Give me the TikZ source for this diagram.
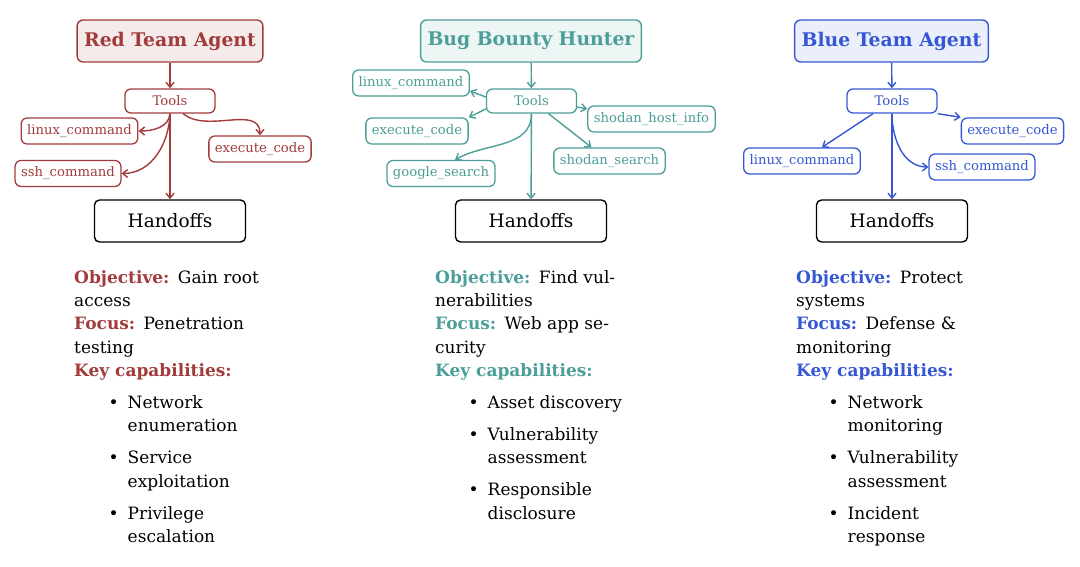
\documentclass[tikz,border=0pt]{standalone}
\usepackage{fontspec}
\setmainfont{DejaVu Serif}
\usetikzlibrary{arrows.meta}

\definecolor{redc}{HTML}{A23B3B}
\definecolor{tealc}{HTML}{4C9E98}
\definecolor{bluec}{HTML}{3557D3}

\begin{document}
\begin{tikzpicture}[
  x=1pt, y=1pt,
  agent/.style={
    draw=#1, fill=#1!10, text=#1, rectangle, rounded corners=6pt,
    line width=1.4pt, minimum height=42pt, inner xsep=7pt,
    font=\fontsize{18.8}{21}\selectfont\bfseries
  },
  tools/.style={
    draw=#1, fill=white, text=#1, rectangle, rounded corners=6pt,
    line width=1.3pt, minimum width=90pt, minimum height=24pt,
    font=\fontsize{13.2}{15}\selectfont
  },
  tool/.style={
    draw=#1, fill=white, text=#1, rectangle, rounded corners=6pt,
    line width=1.3pt, minimum height=26pt, inner xsep=6pt,
    font=\fontsize{13.2}{15}\selectfont
  },
  hand/.style={
    draw=black, fill=white, rectangle, rounded corners=5pt,
    line width=1.4pt, minimum width=151pt, minimum height=42pt,
    font=\fontsize{18.5}{21}\selectfont
  },
  info/.style={
    anchor=north west, align=left, inner sep=0pt,
    font=\fontsize{17}{23.3}\selectfont
  },
  arr/.style={-{Straight Barb[length=5pt,width=8pt]}, line width=1.4pt, draw=#1}
]
\useasboundingbox (0,0) rectangle (1080,-567);

%% ── Red Team Agent ───────────────────────────────────────────
\node[agent=redc] (rtitle) at (170, -41) {Red Team Agent};
\node[tools=redc] (rtools) at (170,-101) {Tools};
\node[tool=redc]  (rlinux) at ( 79.5,-131) {linux\_command};
\node[tool=redc]  (rssh)   at ( 68,-173.5) {ssh\_command};
\node[tool=redc]  (rexec)  at (260,-149) {execute\_code};
\node[hand]       (rhand)  at (170,-221) {Handoffs};

\draw[arr=redc] (rtitle) -- (rtools);
\draw[arr=redc] (rtools) -- (rhand);
\draw[arr=redc] (rtools.south) to[out=-95, in=0] (rlinux.east);
\draw[arr=redc] (rtools.south) to[out=-92, in=0] (rssh.east);
\draw[arr=redc] ([xshift=13pt]rtools.south) to[out=-40, in=90] (rexec.north);

\node[info] (rinfo) at (74,-270) {%
  {\color{redc}\bfseries Objective:}\enspace Gain root\\
  access\\
  {\color{redc}\bfseries Focus:}\enspace Penetration\\
  testing\\
  {\color{redc}\bfseries Key capabilities:}};
\node[info] (rcaps) at (108.5,-392) {%
  \begin{tabular}{@{}l@{\hspace{9pt}}l@{}}
  \textbullet & Network\\
              & enumeration\\[8.7pt]
  \textbullet & Service\\
              & exploitation\\[8.7pt]
  \textbullet & Privilege\\
              & escalation
  \end{tabular}};

%% ── Bug Bounty Hunter ────────────────────────────────────────
\node[agent=tealc] (ttitle)  at (531, -41) {Bug Bounty Hunter};
\node[tools=tealc] (ttools)  at (531.5,-101) {Tools};
\node[tool=tealc]  (tlinux)  at (411, -83) {linux\_command};
\node[tool=tealc]  (texec)   at (417,-131) {execute\_code};
\node[tool=tealc]  (tgoogle) at (441,-173.5) {google\_search};
\node[tool=tealc]  (thost)   at (651.5,-119) {shodan\_host\_info};
\node[tool=tealc]  (tsearch) at (609.5,-161) {shodan\_search};
\node[hand]        (thand)   at (531,-221) {Handoffs};

\draw[arr=tealc] (ttitle) -- (ttools);
\draw[arr=tealc] (ttools) -- (thand);
\draw[arr=tealc] ([yshift=4pt]ttools.west) -- ([yshift=-8pt]tlinux.east);
\draw[arr=tealc] ([yshift=-8pt]ttools.west) -- (texec.north east);
\draw[arr=tealc] ([yshift=-6pt]ttools.east) -- ([yshift=10pt]thost.west);
\draw[arr=tealc] ([xshift=17pt]ttools.south) -- ([xshift=-18pt]tsearch.north);
\draw[arr=tealc] (ttools.south) to[out=-90, in=30] ([xshift=14pt]tgoogle.north);

\node[info] (tinfo) at (435,-270) {%
  {\color{tealc}\bfseries Objective:}\enspace Find vul-\\
  nerabilities\\
  {\color{tealc}\bfseries Focus:}\enspace Web app se-\\
  curity\\
  {\color{tealc}\bfseries Key capabilities:}};
\node[info] (tcaps) at (468.5,-392) {%
  \begin{tabular}{@{}l@{\hspace{9pt}}l@{}}
  \textbullet & Asset discovery\\[8.7pt]
  \textbullet & Vulnerability\\
              & assessment\\[8.7pt]
  \textbullet & Responsible\\
              & disclosure
  \end{tabular}};

%% ── Blue Team Agent ──────────────────────────────────────────
\node[agent=bluec] (btitle) at (891.5, -41) {Blue Team Agent};
\node[tools=bluec] (btools) at (892,-101) {Tools};
\node[tool=bluec]  (bexec)  at (1012.5,-131) {execute\_code};
\node[tool=bluec]  (blinux) at (802,-161) {linux\_command};
\node[tool=bluec]  (bssh)   at (982,-167) {ssh\_command};
\node[hand]        (bhand)  at (892,-221) {Handoffs};

\draw[arr=bluec] (btitle) -- (btools);
\draw[arr=bluec] (btools) -- (bhand);
\draw[arr=bluec] (btools.south east) -- (bexec.north west);
\draw[arr=bluec] ([xshift=-19pt]btools.south) -- ([xshift=20pt]blinux.north);
\draw[arr=bluec] (btools.south) to[out=-90, in=180] (bssh.west);

\node[info] (binfo) at (796,-270) {%
  {\color{bluec}\bfseries Objective:}\enspace Protect\\
  systems\\
  {\color{bluec}\bfseries Focus:}\enspace Defense \&\\
  monitoring\\
  {\color{bluec}\bfseries Key capabilities:}};
\node[info] (bcaps) at (828.5,-392) {%
  \begin{tabular}{@{}l@{\hspace{9pt}}l@{}}
  \textbullet & Network\\
              & monitoring\\[8.7pt]
  \textbullet & Vulnerability\\
              & assessment\\[8.7pt]
  \textbullet & Incident\\
              & response
  \end{tabular}};

\end{tikzpicture}
\end{document}
